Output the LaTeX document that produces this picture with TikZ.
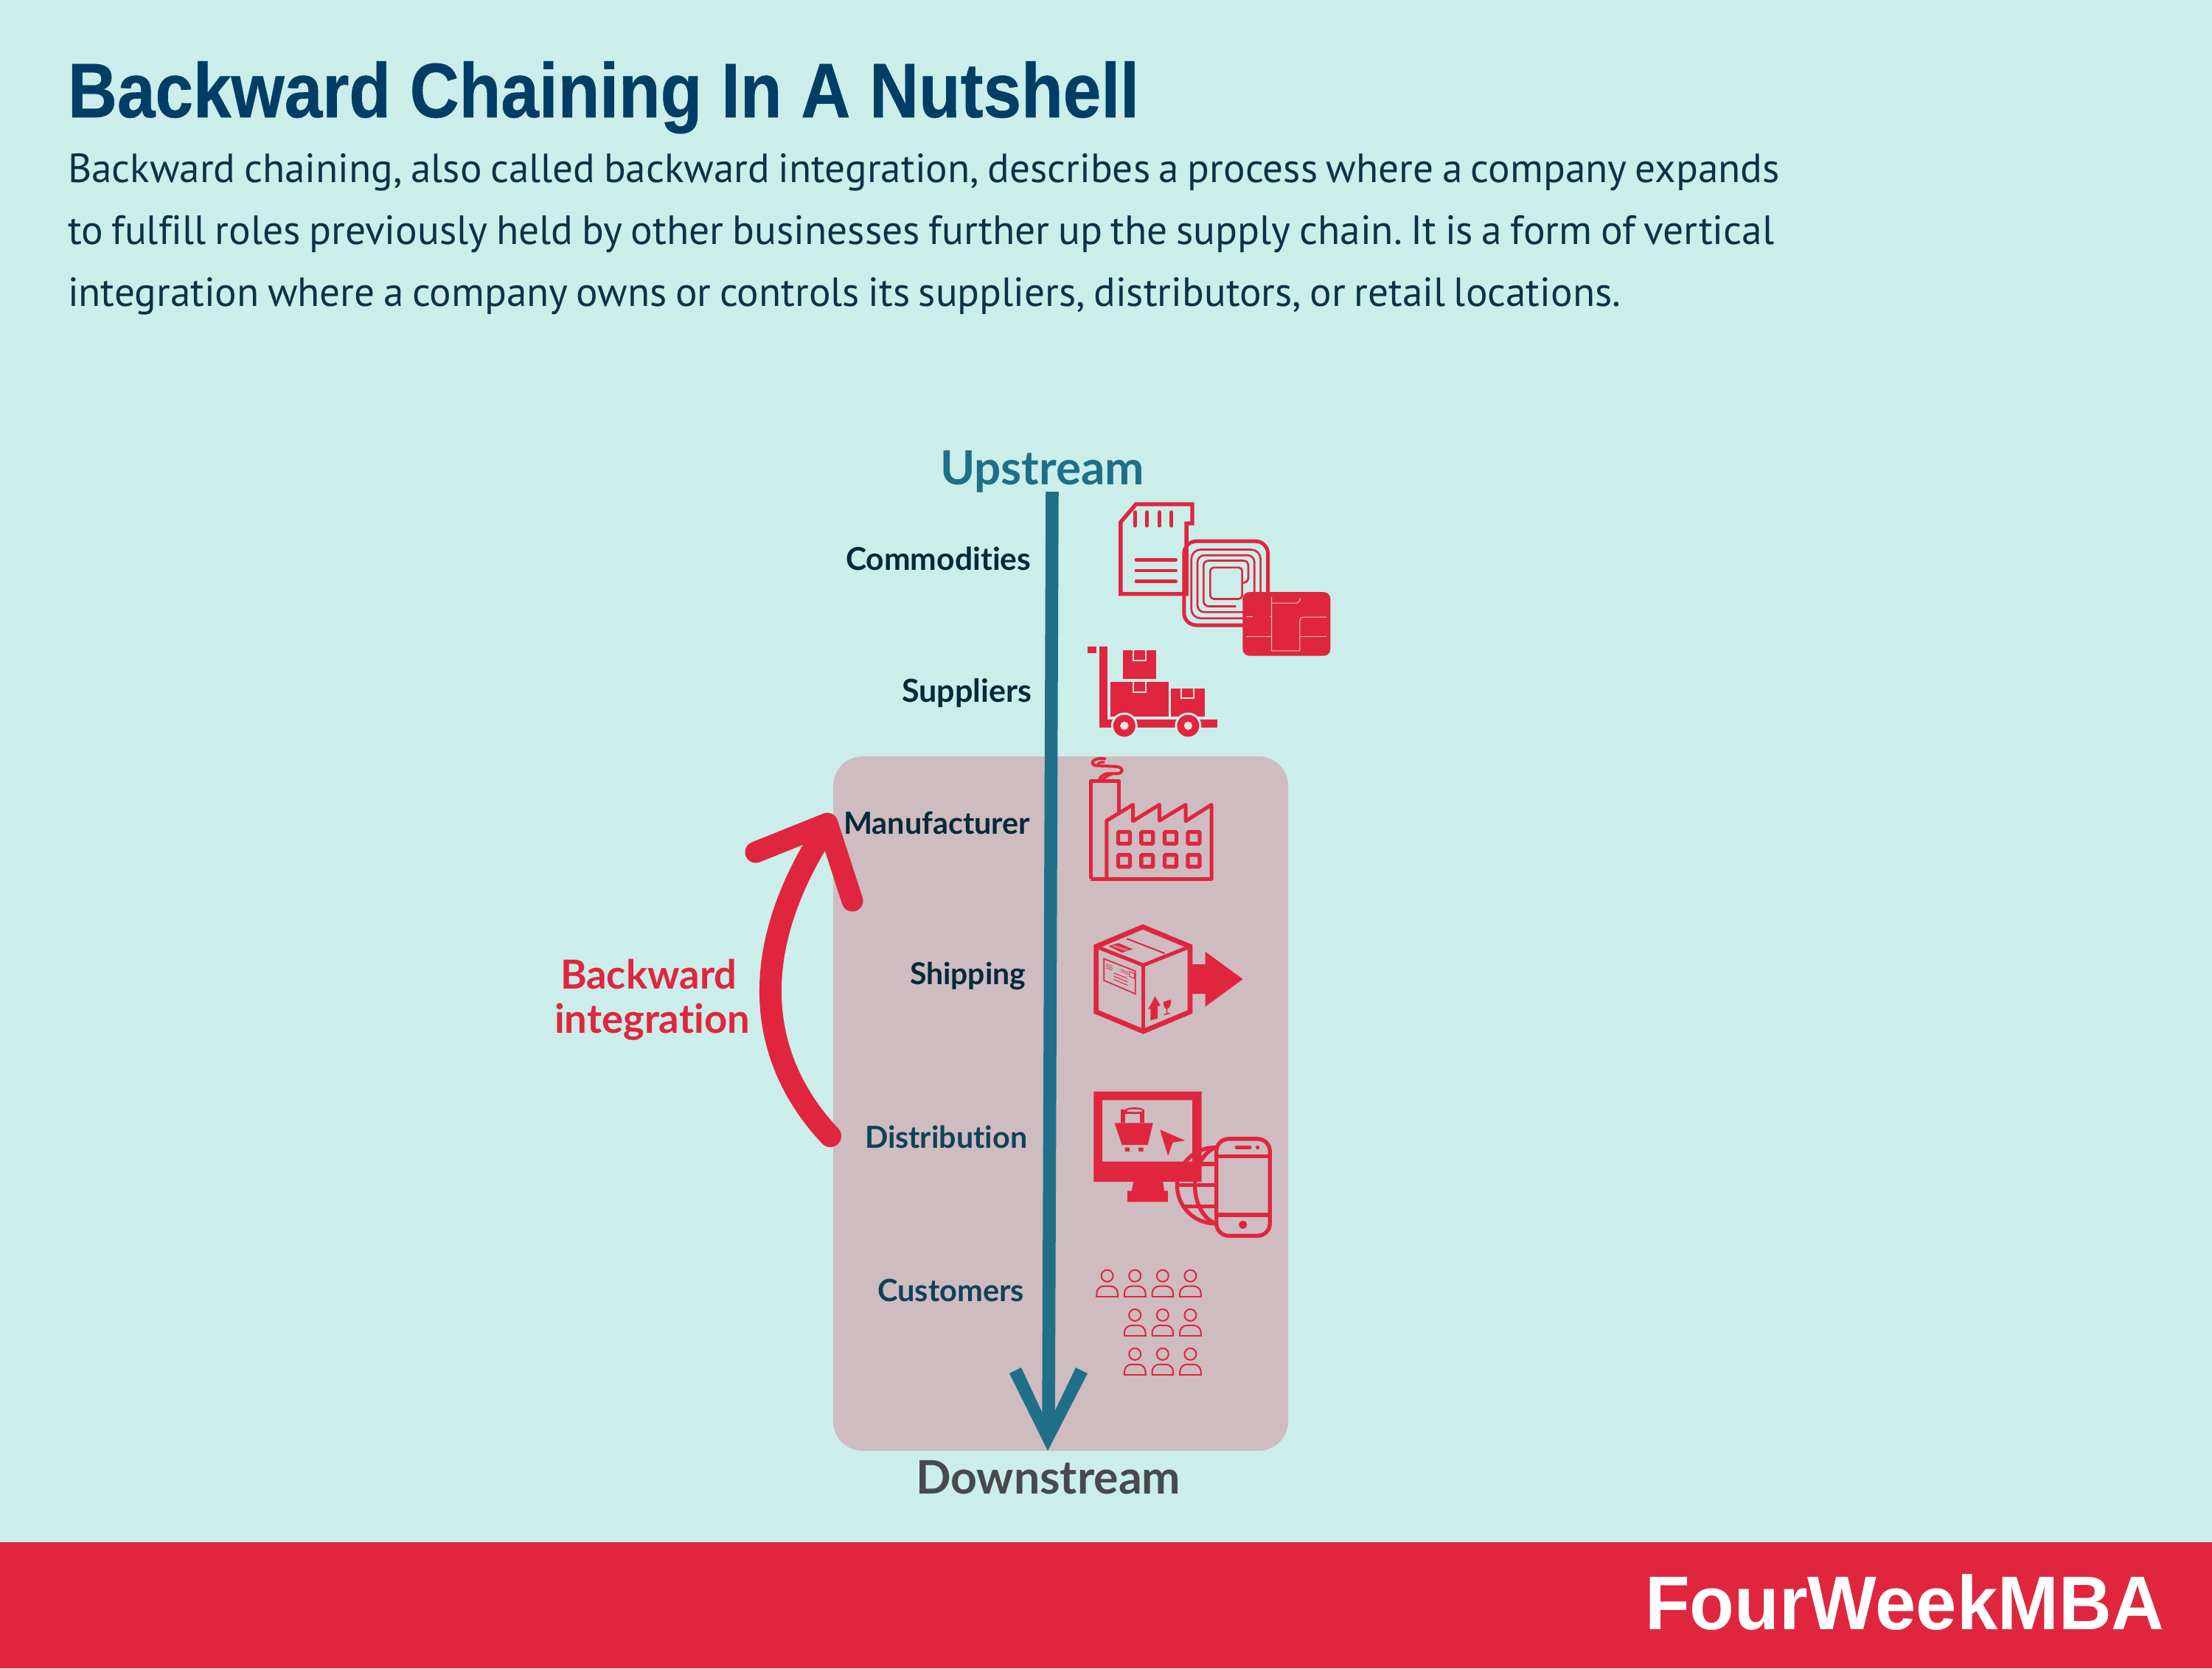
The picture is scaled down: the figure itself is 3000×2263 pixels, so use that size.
\documentclass[tikz,border=0pt]{standalone}
\usepackage{fontspec}
\setmainfont{Liberation Sans}
\newfontfamily\titlefont[FakeBold=0.6]{Liberation Sans Bold}
\newfontfamily\bodyfont[Ligatures=NoCommon,WordSpace=0.78]{PT Sans}
\newfontfamily\latofont[Ligatures=NoCommon]{Lato}
\definecolor{bgmint}{HTML}{CBEEEA}
\definecolor{hired}{HTML}{DF263E}
\definecolor{panel}{HTML}{CEBCC0}
\definecolor{axisteal}{HTML}{206F88}
\definecolor{titleblue}{HTML}{013E66}
\definecolor{bodyink}{HTML}{0B3247}
\definecolor{labeldark}{HTML}{03293B}
\definecolor{labelmid}{HTML}{0F4258}
\definecolor{downgrey}{HTML}{474A4C}
\definecolor{chipline}{HTML}{F3C9CE}
\definecolor{cartline}{HTML}{EFE3E3}
\newcommand{\zu}{0.09484pt}
\newcommand{\pxu}{0.28453pt}
\newlength\fitlen
\setlength\fitlen{0.28453pt}
\newcommand{\fit}[2]{\resizebox{#1\fitlen}{!}{#2}}
\frenchspacing
\tikzset{
  txt/.style={inner sep=0pt,outer sep=0pt,anchor=base west},
  iconframe/.style 2 args={shift={(#1,#2)},x=0.00333333cm,y=-0.00333333cm},
  zl/.style={draw=hired,line width=#1*\zu},
  lab/.style={txt,text=labeldark,font=\latofont\bfseries},
  labm/.style={txt,text=labelmid,font=\latofont\bfseries},
  bodyl/.style={txt,text=bodyink,font=\bodyfont},
  chipl/.style={draw=chipline,line width=3*\zu},
  cartl/.style={draw=cartline,line width=6*\zu},
}
\begin{document}
\begin{tikzpicture}[x=0.01cm,y=-0.01cm]
\useasboundingbox (0,0) rectangle (3000,2263);
\fill[bgmint] (0,0) rectangle (3000,2263);
\fill[hired] (0,2092) rectangle (3000,2263);
\fill[panel,rounded corners=40*\pxu] (1130,1026) rectangle (1747,1968);

% texts
\node[txt,text=titleblue,font=\titlefont] (title) at (92,159) {\fit{1452}{\scalebox{1}[1.13]{Backward Chaining In A Nutshell}}};
\node[bodyl] (body1) at (92,247) {\fit{2320}{Backward chaining, also called backward integration, describes a process where a company expands}};
\node[bodyl] (body2) at (92,331) {\fit{2313}{to fulfill roles previously held by other businesses further up the supply chain. It is a form of vertical}};
\node[bodyl] (body3) at (92,415) {\fit{2105}{integration where a company owns or controls its suppliers, distributors, or retail locations.}};
\node[txt,text=white,font=\bfseries] (brand) at (2231,2210) {\fit{704}{\scalebox{1}[1.04]{FourWeekMBA}}};

\node[txt,text=axisteal,font=\latofont\bfseries] (up) at (1275,657) {\fit{277}{Upstream}};
\node[txt,text=downgrey,font=\latofont\bfseries] (down) at (1242,2026) {\fit{359}{Downstream}};
\node[lab] (commod) at (1147,773) {\fit{251}{Commodities}};
\node[lab] (suppl) at (1223,952) {\fit{176}{Suppliers}};
\node[lab] (manuf) at (1144,1131) {\fit{253}{Manufacturer}};
\node[lab] (ship) at (1234,1335) {\fit{157}{Shipping}};
\node[labm] (distr) at (1173,1557) {\fit{220}{Distribution}};
\node[labm] (cust) at (1190,1765) {\fit{199}{Customers}};
\node[txt,text=hired,font=\latofont\bfseries] (bw1) at (760,1341) {\fit{239}{Backward}};
\node[txt,text=hired,font=\latofont\bfseries] (bw2) at (752,1401) {\fit{265}{integration}};

% downstream axis
\coordinate (axistop) at (1427,667);
\coordinate (axisend) at (1422,1930);
\coordinate (axistip) at (1421,1968);
\draw[axisteal,line width=17.5*\pxu] (axistop) -- (axisend);
\fill[axisteal] (1369,1863) -- (1385,1855) -- (1413,1915) -- (1430,1915) -- (1459,1855) -- (1475,1863) -- (axistip) -- cycle;

% backward integration arrow
\coordinate (bistart) at (1126,1541);
\coordinate (biend) at (1116,1130);
\coordinate (biapex) at (1122,1117);
\coordinate (bileft) at (1025,1156);
\coordinate (biright) at (1156,1222);
\draw[hired,line width=30*\pxu,line cap=round] (bistart) .. controls (1040,1450) and (1002,1310) .. (biend);
\draw[hired,line width=29*\pxu,line cap=round,line join=round] (bileft) -- (biapex) -- (biright);

% SD card, RFID, EMV chip, cart
\begin{scope}[iconframe={1440}{660}]
  \draw[zl=16,line join=miter] (240,145) -- (302,72) -- (532,72) -- (532,150) -- (508,150) -- (508,438) -- (240,438) -- cycle;
  \foreach \sx in {298,347,398,447} \draw[zl=14,line cap=round] (\sx,104) -- (\sx,160);
  \foreach \sy in {298,343,387} \draw[zl=14,line cap=round] (303,\sy) -- (465,\sy);
  \draw[zl=15,rounded corners=50*\zu] (498,223) rectangle (840,565);
  \draw[zl=8,rounded corners=38*\zu] (528,257) rectangle (810,537);
  \draw[zl=8,rounded corners=28*\zu] (553,280) rectangle (785,512);
  \draw[zl=8,rounded corners=20*\zu] (710,488) -- (578,488) -- (578,302) -- (760,302) -- (760,392) -- (735,392);
  \draw[zl=8,rounded corners=14*\zu] (605,330) rectangle (735,458);
  \fill[hired,rounded corners=28*\zu] (737,430) rectangle (1095,690);
  \draw[chipl] (750,530) -- (778,530) (848,530) -- (855,530);
  \draw[chipl] (855,450) -- (855,670) -- (970,670) -- (970,545) to[out=90,in=180] (985,532) -- (1078,532);
  \draw[chipl] (855,475) -- (955,475) to[out=0,in=-90] (972,455);
  \draw[chipl] (750,612) -- (855,612) (970,612) -- (1078,612);
  % cart
  \fill[hired] (105,652) rectangle (142,678);
  \fill[hired] (153,652) rectangle (185,982);
  \fill[hired] (153,950) rectangle (633,982);
  \fill[hired] (248,668) rectangle (384,785);
  \fill[hired] (197,795) rectangle (435,937);
  \fill[hired] (445,822) rectangle (582,937);
  \draw[cartl] (290,668) -- (290,710) -- (343,710) -- (343,668);
  \draw[cartl] (290,795) -- (290,838) -- (343,838) -- (343,795);
  \draw[cartl] (486,822) -- (486,863) -- (539,863) -- (539,822);
  \foreach \wx in {255,515} {
    \fill[bgmint] (\wx,975) circle[radius=54];
    \fill[hired] (\wx,975) circle[radius=45];
    \fill[cartline] (\wx,975) circle[radius=17];
  }
\end{scope}

% factory
\begin{scope}[iconframe={1440}{1010}]
  \draw[zl=15,line join=round] (118,548) -- (118,150) -- (232,150) -- (232,275);
  \draw[zl=15,line join=round] (118,548) -- (183,548) -- (183,310) -- (290,245) -- (290,312) -- (398,245) -- (398,310) -- (505,245) -- (505,312) -- (610,245) -- (610,548) -- (183,548);
  \draw[zl=12,line cap=round] (175,58) .. controls (135,50) and (110,75) .. (135,85) -- (225,90) .. controls (255,95) and (250,118) .. (225,118) -- (190,118) .. controls (165,120) and (155,135) .. (152,148);
  \draw[zl=10,line cap=round] (205,120) .. controls (185,128) and (170,135) .. (165,148);
  \draw[zl=10,line cap=round] (172,72) .. controls (150,70) and (145,78) .. (150,85);
  \foreach \wx in {254,348,443,538} \foreach \wy in {380,474}
    \draw[zl=16,rounded corners=4*\zu] (\wx-24,\wy-24) rectangle (\wx+24,\wy+24);
\end{scope}

% parcel
\begin{scope}[iconframe={1440}{1240}]
  \fill[hired] (523,205) -- (585,205) -- (585,153) -- (738,265) -- (585,377) -- (585,325) -- (523,325) -- cycle;
  \draw[zl=20,line join=miter] (330,52) -- (523,132) -- (523,398) -- (332,478) -- (140,398) -- (140,132) -- cycle;
  \draw[zl=15,line join=miter] (140,132) -- (332,208) -- (523,132);
  \draw[zl=15] (332,208) -- (332,478);
  \draw[zl=6] (265,100) -- (420,160);
  \fill[hired] (190,130) -- (232,118) -- (290,143) -- (245,157) -- cycle;
  \draw[panel,line width=2*\zu] (205,130) -- (265,150) (212,127) -- (272,147);
  \draw[zl=5] (172,182) -- (300,232) -- (300,325) -- (172,270) -- cycle;
  \draw[zl=3] (212,240) -- (268,262) (212,253) -- (268,276) (212,266) -- (268,290);
  \draw[zl=2] (180,203) -- (206,213) (180,211) -- (206,221) (180,219) -- (206,229) (240,225) -- (272,238) (240,233) -- (272,246);
  \draw[zl=3] (276,234) -- (296,242) -- (296,262) -- (276,254) -- cycle;
  \fill[hired] (380,335) -- (402,372) -- (390,376) -- (390,425) -- (362,433) -- (362,384) -- (352,388) -- cycle;
  \fill[hired] (414,358) -- (445,348) .. controls (448,365) and (440,382) .. (431,385) -- (431,404) -- (441,402) -- (441,406) -- (416,412) -- (416,408) -- (426,405) -- (426,386) .. controls (418,385) and (414,372) .. (414,358) -- cycle;
\end{scope}

% monitor, globe, phone
\begin{scope}[iconframe={1460}{1460}]
  \begin{scope}
    \clip (300,270) rectangle (570,620);
    \draw[zl=16] (565,445) circle[radius=155];
    \draw[zl=16] (565,290) .. controls (455,340) and (455,550) .. (565,600);
    \draw[zl=16] (470,358) -- (565,358) (412,443) -- (565,443) (430,530) -- (565,530);
  \end{scope}
  \fill[hired,even odd rule] (70,62) rectangle (510,430) (105,97) rectangle (472,347);
  \fill[hired] (232,430) -- (352,430) -- (358,467) -- (372,467) -- (372,512) -- (208,512) -- (208,467) -- (225,467) -- cycle;
  \draw[zl=18] (189,190) -- (189,144) -- (267,144) -- (267,190);
  \fill[hired] (198,140) .. controls (198,122) and (275,122) .. (275,140) .. controls (275,158) and (198,158) .. (198,140) -- cycle;
  \fill[panel] (206,139) .. controls (206,133) and (267,133) .. (267,139) -- (267,142) .. controls (267,146) and (206,146) .. (206,142) -- cycle;
  \fill[hired] (155,190) -- (312,190) -- (290,280) -- (185,280) -- cycle;
  \fill[hired] (198,290) rectangle (217,306) (253,290) rectangle (272,306);
  \fill[hired] (340,217) -- (443,262) -- (392,270) -- (373,325) -- cycle;
  \draw[zl=16,rounded corners=50*\zu] (570,255) rectangle (788,650);
  \draw[zl=16] (570,325) -- (788,325) (570,565) -- (788,565);
  \draw[zl=15,line cap=round] (652,290) -- (706,290);
  \fill[hired] (738,290) circle[radius=8];
  \fill[hired] (678,605) circle[radius=17];
\end{scope}

% customers
\begin{scope}[iconframe={1460}{1700}]
  \foreach \ppx/\ppy in {125/92,238/92,351/92,464/92,238/252,351/252,464/252,238/411,351/411,464/411} {
    \draw[zl=6] (\ppx,\ppy) circle[radius=24];
    \draw[zl=6,rounded corners=30*\zu] (\ppx-43,\ppy+84) -- (\ppx-43,\ppy+42) -- (\ppx+43,\ppy+42) -- (\ppx+43,\ppy+84);
    \draw[zl=6] (\ppx-46,\ppy+84) -- (\ppx+46,\ppy+84);
  }
\end{scope}
\end{tikzpicture}
\end{document}
